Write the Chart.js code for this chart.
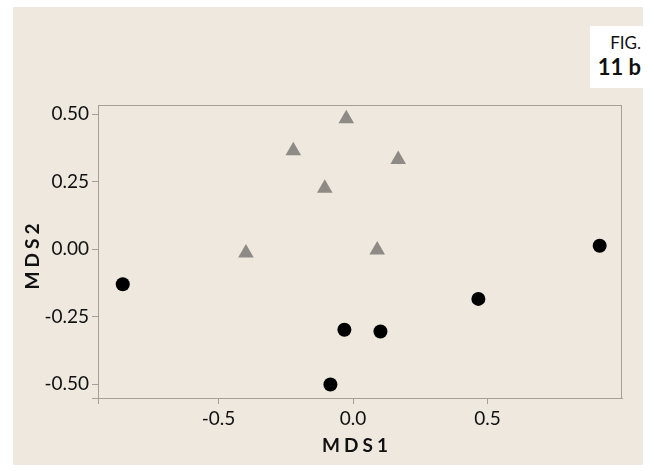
<!DOCTYPE html>
<html>
<head>
<meta charset="utf-8">
<script src="https://cdn.jsdelivr.net/npm/chart.js@4"></script>
<style>
  html, body { margin: 0; padding: 0; background: #ffffff; }
  #wrap { position: relative; width: 654px; height: 471px; overflow: hidden; }
  #panel { position: absolute; left: 13px; top: 7px; width: 630px; height: 458px; background: #EEE8DF; }
  #chart { position: absolute; left: 0; top: 0; }
  #fig { position: absolute; left: 590px; top: 26px; width: 64px; height: 62px; background: #ffffff;
         font-family: Lato, sans-serif; color: #111; }
  #fig .l1 { position: absolute; right: 13px; top: 8px; font-size: 17px; line-height: 17px; }
  #fig .l2 { position: absolute; right: 13px; top: 30px; font-size: 22px; line-height: 22px; font-weight: bold; }
</style>
</head>
<body>
<div id="wrap">
  <div id="panel"></div>
  <canvas id="chart" width="654" height="471"></canvas>
  <div id="fig"><div class="l1">FIG.</div><div class="l2">11 b</div></div>
</div>
<script>
// Group A (filled circles): MDS1 / MDS2 coordinates
const circleX = [-0.856, -0.084, -0.032, 0.102, 0.466, 0.917];
const circleY = [-0.130, -0.501, -0.298, -0.305, -0.184, 0.013];
// Group B (triangles)
const triX = [-0.398, -0.222, -0.105, -0.025, 0.090, 0.168];
const triY = [-0.014, 0.365, 0.226, 0.483, -0.003, 0.332];

// Axis extents and labelled ticks
const xRange = [-0.948, 1.0];
const yRange = [-0.551, 0.534];
const xTicks = [-0.5, 0.0, 0.5];
const yTicks = [-0.50, -0.25, 0.00, 0.25, 0.50];
const xTitle = 'MDS1';
const yTitle = 'MDS2';

const frameColor = '#A3A09A';
const textColor = '#111111';

const toPoints = (xs, ys) => xs.map((x, i) => ({ x: x, y: ys[i] }));

// Frame around the plotting area plus spaced axis titles
const decor = {
  id: 'decor',
  afterDatasetsDraw(chart) {
    const { ctx, chartArea: a } = chart;
    ctx.save();
    ctx.strokeStyle = frameColor;
    ctx.lineWidth = 1;
    ctx.strokeRect(Math.round(a.left) + 0.5, Math.round(a.top) + 0.5,
                   Math.round(a.right - a.left) - 1, Math.round(a.bottom - a.top));
    ctx.restore();
  },
  afterDraw(chart) {
    const { ctx, chartArea: a } = chart;
    ctx.save();
    ctx.fillStyle = textColor;
    ctx.font = 'bold 19px Lato';
    if ('letterSpacing' in ctx) ctx.letterSpacing = '4px';
    ctx.textAlign = 'center';
    ctx.textBaseline = 'alphabetic';
    ctx.fillText(xTitle, chart.scales.x.getPixelForValue(0) + 4, 452);
    ctx.translate(39, (a.top + a.bottom) / 2 + 3);
    ctx.rotate(-Math.PI / 2);
    ctx.fillText(yTitle, 0, 0);
    ctx.restore();
  }
};

new Chart(document.getElementById('chart'), {
  type: 'scatter',
  data: {
    datasets: [
      {
        label: 'A',
        data: toPoints(circleX, circleY),
        pointStyle: 'circle',
        pointRadius: 7,
        pointHoverRadius: 7,
        backgroundColor: '#000000',
        borderColor: '#000000',
        borderWidth: 0
      },
      {
        label: 'B',
        data: toPoints(triX, triY),
        pointStyle: 'triangle',
        pointRadius: 9,
        pointHoverRadius: 9,
        backgroundColor: '#8E8A85',
        borderColor: '#8E8A85',
        borderWidth: 0
      }
    ]
  },
  options: {
    responsive: false,
    animation: false,
    layout: { padding: { left: 0, right: 32, top: 105, bottom: 0 } },
    plugins: { legend: { display: false }, tooltip: { enabled: false } },
    scales: {
      x: {
        type: 'linear',
        min: xRange[0],
        max: xRange[1],
        afterBuildTicks(scale) {
          scale.ticks = [xRange[0]].concat(xTicks).map(v => ({ value: v }));
        },
        afterFit(scale) { scale.height = 73; },
        ticks: {
          color: textColor,
          font: { family: 'Lato', size: 19 },
          padding: 3,
          maxRotation: 0,
          callback: (v) => (xTicks.includes(v) ? v.toFixed(1) : '')
        },
        grid: { drawOnChartArea: false, drawTicks: true, tickLength: 6, color: frameColor },
        border: { display: true, color: frameColor }
      },
      y: {
        type: 'linear',
        min: yRange[0],
        max: yRange[1],
        afterBuildTicks(scale) {
          scale.ticks = [yRange[0]].concat(yTicks).map(v => ({ value: v }));
        },
        afterFit(scale) { scale.width = 98; },
        ticks: {
          color: textColor,
          font: { family: 'Lato', size: 19 },
          padding: 3,
          callback: (v) => (yTicks.includes(v) ? v.toFixed(2) : '')
        },
        grid: { drawOnChartArea: false, drawTicks: true, tickLength: 6, color: frameColor },
        border: { display: true, color: frameColor }
      }
    }
  },
  plugins: [decor]
});
</script>
</body>
</html>
